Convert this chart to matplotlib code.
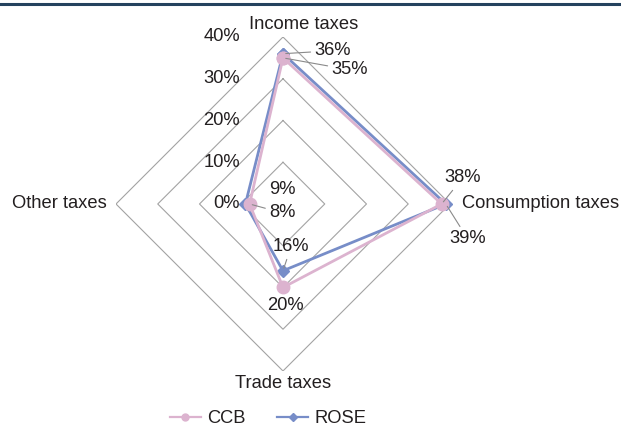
import numpy as np
import matplotlib
matplotlib.use("Agg")
import matplotlib.pyplot as plt
from matplotlib.lines import Line2D

plt.rcParams['font.family'] = ['Liberation Sans', 'DejaVu Sans']

# data
categories = ["Income taxes", "Consumption taxes", "Trade taxes", "Other taxes"]
ccb = [35, 38, 20, 8]
rose = [36, 39, 16, 9]
ring_levels = [10, 20, 30, 40]
tick_levels = [0, 10, 20, 30, 40]

pink = "#dcb3cf"
blue = "#778dc8"
grey = "#a3a3a3"
txt = "#231f20"
fs = 13.2

fig = plt.figure(figsize=(6.21, 4.28), dpi=100)
ax = fig.add_axes([0.1868, 0.1332, 0.5378, 0.7804], projection="polar")
ax.set_theta_offset(np.pi / 2)
ax.set_theta_direction(-1)
ax.set_ylim(0, 40)
ax.grid(False)
ax.spines["polar"].set_visible(False)
ax.set_xticks([])
ax.set_yticks([])
ax.patch.set_visible(False)

angles = np.linspace(0, 2 * np.pi, len(categories), endpoint=False)
closed = np.append(angles, angles[0])

# diamond grid
for lev in ring_levels:
    ax.plot(closed, [lev] * len(closed), color=grey, lw=0.8, zorder=1)

# series
ax.plot(closed, rose + rose[:1], color=blue, lw=2.0, marker="D", ms=6,
        zorder=3, clip_on=False)
ax.plot(closed, ccb + ccb[:1], color=pink, lw=2.0, marker="o", ms=9,
        zorder=4, clip_on=False)

# radial tick labels along the top axis
for lev in tick_levels:
    ax.annotate(f"{lev}%", xy=(0, lev), xytext=(-43, 0), textcoords="offset pixels",
                ha="right", va="center", fontsize=fs, color=txt)

# category labels
cat_offsets = [((21, 12), "center", "center"),
               ((12, 0), "left", "center"),
               ((0, -13), "center", "center"),
               ((-9, 0), "right", "center")]
for ang, name, (off, ha, va) in zip(angles, categories, cat_offsets):
    ax.annotate(name, xy=(ang, 40), xytext=off, textcoords="offset pixels",
                ha=ha, va=va, fontsize=fs, color=txt, annotation_clip=False)

# data labels (offsets in pixels, leader line flag)
rose_offsets = [((50, 3), True), ((22, -35), True), ((8, 24), True), ((37, 14), False)]
ccb_offsets = [((67, -12), True), ((21, 26), True), ((2, -18), False), ((33, -9), True)]
leader = dict(arrowstyle="-", color="#8a8a8a", lw=0.8, shrinkA=1, shrinkB=2)
for vals, offs in ((rose, rose_offsets), (ccb, ccb_offsets)):
    for ang, v, (off, lead) in zip(angles, vals, offs):
        ax.annotate(f"{v}%", xy=(ang, v), xytext=off, textcoords="offset pixels",
                    ha="center", va="center", fontsize=fs, color=txt, zorder=5,
                    arrowprops=leader if lead else None, annotation_clip=False)

# legend
handles = [Line2D([], [], color=pink, lw=1.6, marker="o", ms=5),
           Line2D([], [], color=blue, lw=1.6, marker="D", ms=4.5)]
fig.legend(handles, ["CCB", "ROSE"], loc="center", bbox_to_anchor=(0.432, 0.022),
           ncol=2, frameon=False, fontsize=fs, handlelength=1.7, columnspacing=1.7,
           handletextpad=0.35, labelcolor=txt, borderpad=0)

# top rule
fig.add_artist(Line2D([0, 1], [0.9895, 0.9895], transform=fig.transFigure,
                      color="#24425e", lw=2.2))

fig.savefig("out.png", dpi=100)
